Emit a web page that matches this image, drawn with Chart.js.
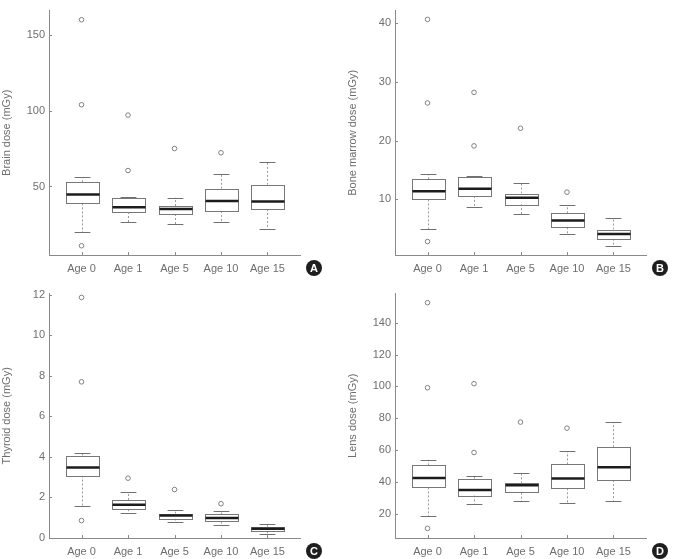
<!DOCTYPE html>
<html>
<head>
<meta charset="utf-8">
<script src="https://cdn.jsdelivr.net/npm/chart.js@4.4.1/dist/chart.umd.min.js"></script>
<style>
  html, body { margin: 0; padding: 0; background: #fff; width: 673px; height: 559px; overflow: hidden; }
  canvas { position: absolute; }
</style>
</head>
<body>
<canvas id="cA" width="336" height="276" style="left:0px;top:0px"></canvas>
<canvas id="cB" width="327" height="276" style="left:346px;top:0px"></canvas>
<canvas id="cC" width="336" height="276" style="left:0px;top:283px"></canvas>
<canvas id="cD" width="327" height="276" style="left:346px;top:283px"></canvas>
<script>
const categories = ['Age 0', 'Age 1', 'Age 5', 'Age 10', 'Age 15'];

// A: brain dose
const brainLow  = [20.0, 26.3, 25.2, 26.5, 21.9];
const brainQ1   = [38.9, 33.2, 31.9, 33.9, 35.2];
const brainMed  = [44.8, 36.3, 35.2, 40.4, 40.2];
const brainQ3   = [52.8, 42.4, 37.1, 48.5, 51.1];
const brainHigh = [56.1, 42.8, 42.6, 58.3, 65.9];
const brainOut  = [[159.8, 103.8, 11.0], [97.0, 60.5], [75.0], [72.2], []];
const brainTicks = [50, 100, 150];

// B: bone marrow dose
const marrowLow  = [5.0, 8.76, 7.46, 4.08, 2.16];
const marrowQ1   = [10.0, 10.6, 9.2, 5.26, 3.34];
const marrowMed  = [11.4, 11.8, 10.3, 6.4, 4.13];
const marrowQ3   = [13.4, 13.8, 11.0, 7.63, 4.87];
const marrowHigh = [14.3, 14.0, 12.8, 9.04, 6.8];
const marrowOut  = [[40.6, 26.4, 2.84], [28.2, 19.1], [22.1], [11.24], []];
const marrowTicks = [10, 20, 30, 40];

// C: thyroid dose
const thyroidLow  = [1.59, 1.22, 0.77, 0.62, 0.2];
const thyroidQ1   = [3.08, 1.42, 0.96, 0.81, 0.34];
const thyroidMed  = [3.47, 1.64, 1.11, 0.99, 0.46];
const thyroidQ3   = [4.06, 1.87, 1.2, 1.16, 0.55];
const thyroidHigh = [4.17, 2.26, 1.38, 1.35, 0.67];
const thyroidOut  = [[11.86, 7.7, 0.86], [2.95], [2.39], [1.69], []];
const thyroidTicks = [0, 2, 4, 6, 8, 10, 12];

// D: lens dose
const lensLow  = [18.5, 26.4, 28.1, 26.9, 28.3];
const lensQ1   = [36.6, 31.6, 33.3, 36.0, 41.2];
const lensMed  = [42.5, 35.0, 37.9, 42.2, 49.3];
const lensQ3   = [50.4, 42.0, 39.1, 51.0, 61.8];
const lensHigh = [53.9, 43.9, 45.8, 59.3, 77.6];
const lensOut  = [[152.6, 99.2, 10.85], [101.7, 58.5], [77.6], [73.8], []];
const lensTicks = [20, 40, 60, 80, 100, 120, 140];

const FONT = 'Liberation Sans, Arial, sans-serif';
const TXT = '#6e6e6e';
const AXIS = '#8a8a8a';

function boxPlugin(d) {
  return {
    id: 'boxes',
    beforeDatasetsDraw(chart) {
      const {ctx, chartArea, scales: {x, y}} = chart;
      const half = x.getPixelForValue(1.355) - x.getPixelForValue(1);
      const cap = x.getPixelForValue(1.17) - x.getPixelForValue(1);
      ctx.save();
      // small inward tick marks
      ctx.strokeStyle = AXIS;
      ctx.lineWidth = 1;
      ctx.beginPath();
      y.ticks.forEach(t => {
        const py = Math.round(y.getPixelForValue(t.value)) + 0.5;
        ctx.moveTo(chartArea.left, py); ctx.lineTo(chartArea.left + 3, py);
      });
      x.ticks.forEach(t => {
        const px = Math.round(x.getPixelForValue(t.value)) + 0.5;
        ctx.moveTo(px, chartArea.bottom); ctx.lineTo(px, chartArea.bottom - 3);
      });
      ctx.stroke();
      d.med.forEach((m, i) => {
        const xc = Math.round(x.getPixelForValue(i + 1)) + 0.5;
        const yLo = y.getPixelForValue(d.low[i]);
        const yQ1 = y.getPixelForValue(d.q1[i]);
        const yMd = y.getPixelForValue(m);
        const yQ3 = y.getPixelForValue(d.q3[i]);
        const yHi = y.getPixelForValue(d.high[i]);
        // whiskers
        ctx.strokeStyle = '#9a9a9a';
        ctx.lineWidth = 1;
        ctx.setLineDash([2, 2]);
        ctx.beginPath();
        ctx.moveTo(xc, yQ3); ctx.lineTo(xc, yHi);
        ctx.moveTo(xc, yQ1); ctx.lineTo(xc, yLo);
        ctx.stroke();
        ctx.setLineDash([]);
        // caps
        ctx.strokeStyle = '#707070';
        ctx.beginPath();
        ctx.moveTo(xc - cap, Math.round(yHi) + 0.5); ctx.lineTo(xc + cap, Math.round(yHi) + 0.5);
        ctx.moveTo(xc - cap, Math.round(yLo) + 0.5); ctx.lineTo(xc + cap, Math.round(yLo) + 0.5);
        ctx.stroke();
        // box
        ctx.fillStyle = '#fff';
        ctx.fillRect(xc - half, yQ3, half * 2, yQ1 - yQ3);
        ctx.strokeStyle = '#777';
        ctx.strokeRect(Math.round(xc - half) + 0.5, Math.round(yQ3) + 0.5, Math.round(half * 2), Math.round(yQ1 - yQ3));
        // median
        ctx.strokeStyle = '#1c1c1c';
        ctx.lineWidth = 2.5;
        ctx.beginPath();
        ctx.moveTo(Math.round(xc - half) + 0.5, yMd); ctx.lineTo(Math.round(xc + half) + 0.5, yMd);
        ctx.stroke();
      });
      ctx.restore();
    }
  };
}

function badgePlugin(letter) {
  return {
    id: 'badge',
    afterDraw(chart) {
      const {ctx, chartArea} = chart;
      const cx = chartArea.right + 14, cy = chartArea.bottom + 13;
      ctx.save();
      ctx.fillStyle = '#1e1e1e';
      ctx.beginPath();
      ctx.arc(cx, cy, 8, 0, Math.PI * 2);
      ctx.fill();
      ctx.fillStyle = '#fff';
      ctx.font = 'bold 11px ' + FONT;
      ctx.textAlign = 'center';
      ctx.textBaseline = 'middle';
      ctx.fillText(letter, cx, cy + 0.5);
      ctx.restore();
    }
  };
}

function makePanel(id, d, yMin, yMax, yTicks, title, letter, padRight) {
  const outPts = d.out.flatMap((vals, i) => vals.map(v => ({x: i + 1, y: v})));
  new Chart(document.getElementById(id).getContext('2d'), {
    type: 'scatter',
    data: {
      datasets: [{
        data: outPts,
        pointStyle: 'circle',
        pointRadius: 2.3,
        borderColor: '#808080',
        borderWidth: 1,
        backgroundColor: 'rgba(0,0,0,0)'
      }]
    },
    options: {
      responsive: false,
      animation: false,
      layout: {padding: {top: 9, right: padRight, left: 0, bottom: 0}},
      plugins: {legend: {display: false}, tooltip: {enabled: false}},
      scales: {
        x: {
          type: 'linear', min: 0.3, max: 5.7,
          afterBuildTicks: s => { s.ticks = categories.map((c, i) => ({value: i + 1})); },
          afterFit: s => { s.height = 21; },
          ticks: {
            callback: v => categories[v - 1],
            color: TXT, font: {family: FONT, size: 11}, padding: 7,
            autoSkip: false, maxRotation: 0
          },
          grid: {display: false, drawTicks: false},
          border: {display: true, color: AXIS, width: 1}
        },
        y: {
          min: yMin, max: yMax,
          afterBuildTicks: s => { s.ticks = yTicks.map(v => ({value: v})); },
          afterFit: s => { s.width = 49; },
          ticks: {color: TXT, font: {family: FONT, size: 11}, padding: 4},
          grid: {display: false, drawTicks: false},
          border: {display: true, color: AXIS, width: 1},
          title: {display: true, text: title, color: TXT, font: {family: FONT, size: 11}, padding: 0}
        }
      }
    },
    plugins: [boxPlugin(d), badgePlugin(letter)]
  });
}

makePanel('cA', {low: brainLow, q1: brainQ1, med: brainMed, q3: brainQ3, high: brainHigh, out: brainOut},
  4.9, 165.8, brainTicks, 'Brain dose (mGy)', 'A', 36);
makePanel('cB', {low: marrowLow, q1: marrowQ1, med: marrowMed, q3: marrowQ3, high: marrowHigh, out: marrowOut},
  0.55, 42.1, marrowTicks, 'Bone marrow dose (mGy)', 'B', 27);
makePanel('cC', {low: thyroidLow, q1: thyroidQ1, med: thyroidMed, q3: thyroidQ3, high: thyroidHigh, out: thyroidOut},
  0, 12.05, thyroidTicks, 'Thyroid dose (mGy)', 'C', 36);
makePanel('cD', {low: lensLow, q1: lensQ1, med: lensMed, q3: lensQ3, high: lensHigh, out: lensOut},
  4.8, 158.3, lensTicks, 'Lens dose (mGy)', 'D', 27);
</script>
</body>
</html>
